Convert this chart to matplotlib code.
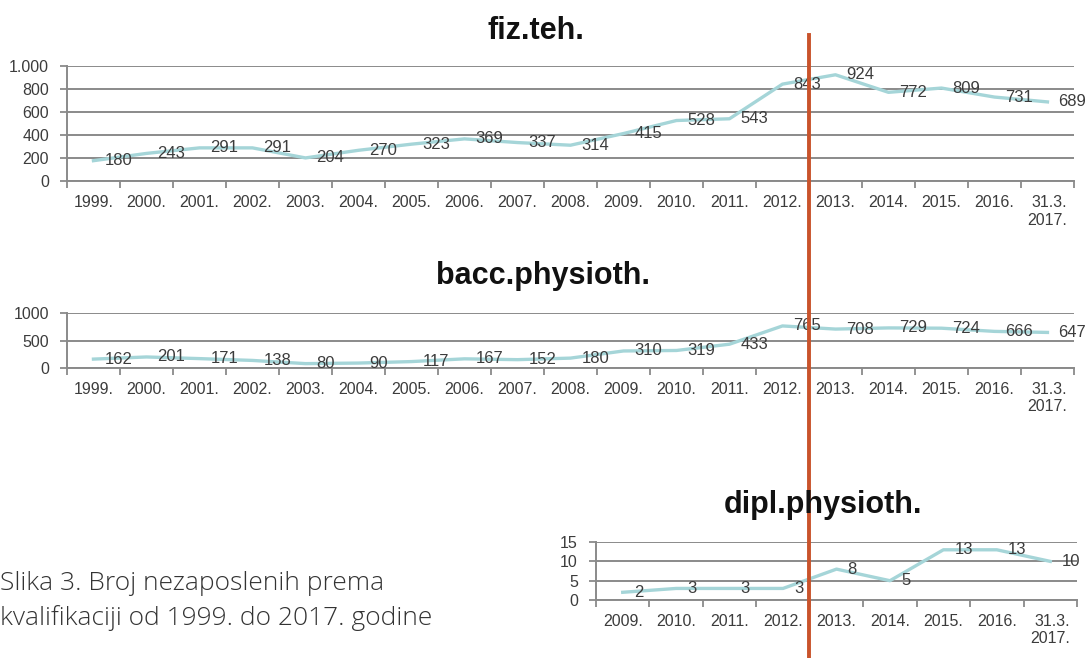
import matplotlib
matplotlib.use('Agg')
import matplotlib.pyplot as plt
from matplotlib.lines import Line2D

# Broj nezaposlenih prema kvalifikaciji
years = ['1999.', '2000.', '2001.', '2002.', '2003.', '2004.', '2005.', '2006.',
         '2007.', '2008.', '2009.', '2010.', '2011.', '2012.', '2013.', '2014.',
         '2015.', '2016.', '31.3.\n2017.']
fiz_teh = [180, 243, 291, 291, 204, 270, 323, 369, 337, 314, 415, 528, 543,
           843, 924, 772, 809, 731, 689]
bacc = [162, 201, 171, 138, 80, 90, 117, 167, 152, 180, 310, 319, 433,
        765, 708, 729, 724, 666, 647]
dipl_years = ['2009.', '2010.', '2011.', '2012.', '2013.', '2014.', '2015.',
              '2016.', '31.3.\n2017.']
dipl = [2, 3, 3, 3, 8, 5, 13, 13, 10]

line_col = '#a5d5d8'
grid_col = '#8a8a8a'
txt_col = '#3c3c3c'
plt.rcParams['font.family'] = ['Liberation Sans', 'DejaVu Sans']

fig = plt.figure(figsize=(10.87, 6.58), dpi=100)


def panel(rect, cats, vals, yticks, ylabels, title, title_xy):
    ax = fig.add_axes(rect)
    n = len(cats)
    x = list(range(n))
    ax.plot(x, vals, color=line_col, lw=2.4, solid_joinstyle='round', zorder=3)
    for xi, v in zip(x, vals):
        ax.annotate(str(v), (xi, v), xytext=(11, 0), textcoords='offset pixels',
                    ha='left', va='center', fontsize=12, color=txt_col, zorder=4)
    ax.set_xlim(-0.5, n - 0.5)
    ax.set_ylim(yticks[0], yticks[-1])
    ax.set_yticks(yticks)
    ax.set_yticklabels(ylabels, fontsize=11.5, color=txt_col)
    ax.set_xticks([i - 0.5 for i in range(n + 1)])
    ax.set_xticklabels([])
    ax.set_xticks(x, minor=True)
    ax.set_xticklabels(cats, minor=True, fontsize=11.5, color=txt_col,
                       multialignment='right')
    ax.tick_params(axis='x', which='major', length=5, color=grid_col, width=1.3)
    ax.tick_params(axis='x', which='minor', length=0, pad=10)
    ax.tick_params(axis='y', length=5, color=grid_col, width=1.3, pad=8)
    ax.grid(axis='y', color=grid_col, lw=1.4, zorder=1)
    for s in ['top', 'right']:
        ax.spines[s].set_visible(False)
    for s in ['left', 'bottom']:
        ax.spines[s].set_color(grid_col)
        ax.spines[s].set_linewidth(1.4)
    ax.patch.set_alpha(0)
    fig.text(title_xy[0], title_xy[1], title, ha='center', va='center',
             fontsize=22, fontweight='bold', color='#111111')
    return ax


panel([0.0616, 0.7242, 0.9264, 0.1755], years, fiz_teh,
      [0, 200, 400, 600, 800, 1000], ['0', '200', '400', '600', '800', '1.000'],
      'fiz.teh.', (0.493, 1 - 31 / 658))
panel([0.0616, 0.4407, 0.9264, 0.0836], years, bacc,
      [0, 500, 1000], ['0', '500', '1000'],
      'bacc.physioth.', (0.5, 1 - 276 / 658))
panel([0.5483, 0.0881, 0.4425, 0.0881], dipl_years, dipl,
      [0, 5, 10, 15], ['0', '5', '10', '15'],
      'dipl.physioth.', (0.757, 1 - 505 / 658))

# crvena okomita linija izmedju 2012. i 2013.
fig.add_artist(Line2D([809 / 1087, 809 / 1087], [0, 1 - 35 / 658],
                      transform=fig.transFigure, color='#c9532b', lw=2.8))

cap_font = ['Open Sans', 'DejaVu Sans']
fig.text(0.0, 1 - 583 / 658, 'Slika 3. Broj nezaposlenih prema',
         ha='left', va='center', fontsize=19, color='#333333',
         family=cap_font, fontweight='light')
fig.text(0.0, 1 - 618 / 658, 'kvalifikaciji od 1999. do 2017. godine',
         ha='left', va='center', fontsize=19, color='#333333',
         family=cap_font, fontweight='light')

fig.savefig('out.png', dpi=100)
